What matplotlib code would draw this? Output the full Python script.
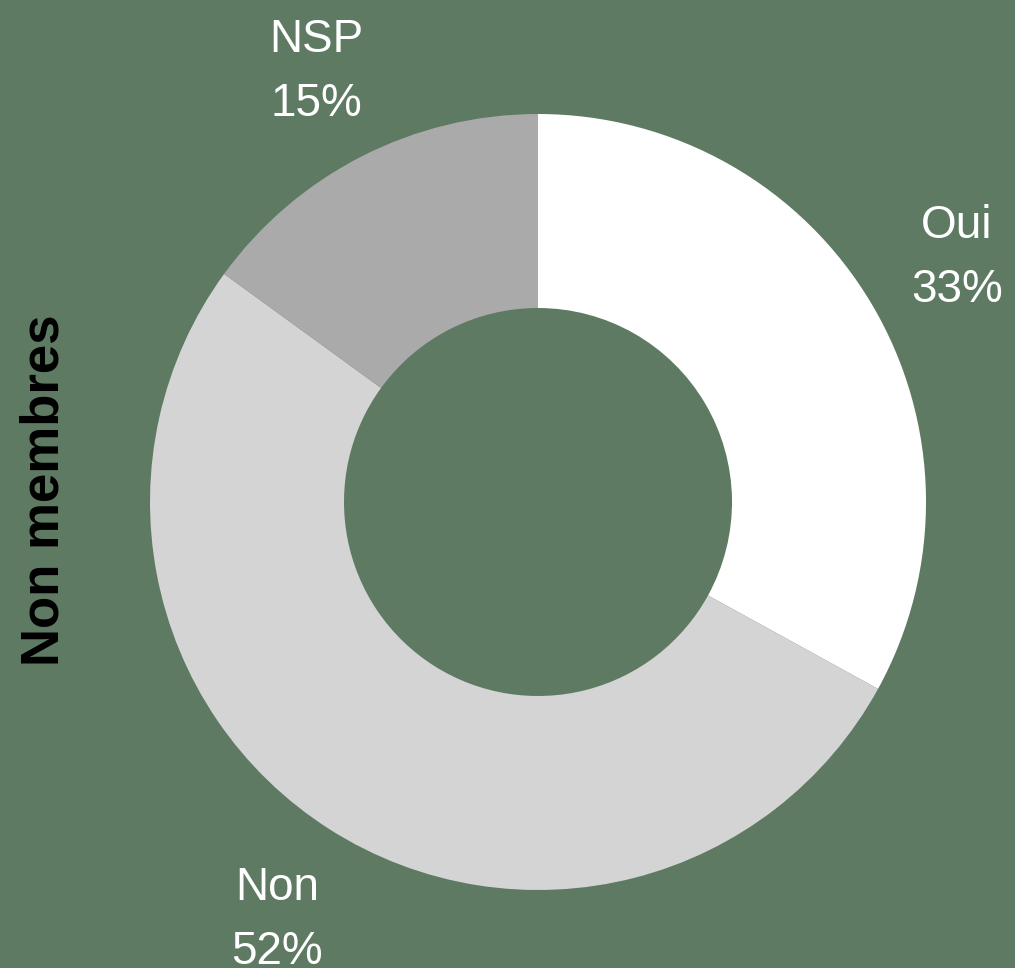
import matplotlib.pyplot as plt

labels = ["Oui", "Non", "NSP"]
values = [33, 52, 15]
colors = ["#ffffff", "#d4d4d4", "#aaaaaa"]
bg = "#5e7a63"

plt.rcParams['font.family'] = ['Liberation Sans', 'DejaVu Sans']

H = 968
fig = plt.figure(figsize=(10.15, 9.68), dpi=100, facecolor=bg)
ax = fig.add_axes([0, 0, 1, 1])
ax.set_facecolor(bg)

# donut
ax.pie(values, colors=colors, startangle=90, counterclock=False,
       center=(538, H - 502), radius=388, frame=True,
       wedgeprops=dict(width=194, linewidth=0))
ax.set_xlim(0, 1015)
ax.set_ylim(0, H)
ax.set_aspect('equal')
ax.axis('off')

# labels (name line and percent line), positions in pixels from top
label_pos = {"Oui": (957, 238), "Non": (277, 900), "NSP": (316, 52)}
for lab, val in zip(labels, values):
    x, y = label_pos[lab]
    ax.text(x, H - y, lab, color="white", fontsize=33, ha="center", va="baseline")
    ax.text(x, H - (y + 64), f"{val}%", color="white", fontsize=33, ha="center", va="baseline")

ax.text(45, H - 490, "Non membres", rotation=90, color="black", fontsize=38,
        fontweight="bold", ha="center", va="center")

fig.savefig("out.png", dpi=100, facecolor=bg)
